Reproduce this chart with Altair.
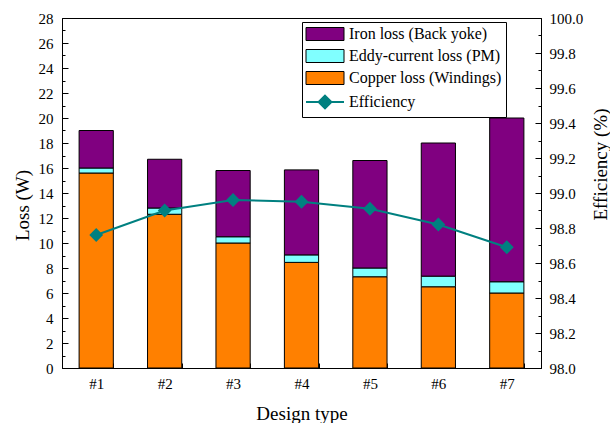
import altair as alt
import pandas as pd

designs = ["#1", "#2", "#3", "#4", "#5", "#6", "#7"]
copper_loss = [15.6, 12.3, 10.0, 8.45, 7.3, 6.5, 6.0]
eddy_loss = [0.4, 0.5, 0.5, 0.6, 0.7, 0.85, 0.9]
iron_loss = [3.0, 3.9, 5.3, 6.8, 8.6, 10.65, 13.1]
efficiency = [98.76, 98.90, 98.96, 98.95, 98.91, 98.82, 98.69]

series_names = ["Iron loss (Back yoke)", "Eddy-current loss (PM)", "Copper loss (Windings)", "Efficiency"]
series_colors = ["#800080", "#80FFFF", "#FF8000", "#008080"]

rows = []
for i, d in enumerate(designs):
    rows.append({"design": d, "series": series_names[2], "loss": copper_loss[i], "ord": 0})
    rows.append({"design": d, "series": series_names[1], "loss": eddy_loss[i], "ord": 1})
    rows.append({"design": d, "series": series_names[0], "loss": iron_loss[i], "ord": 2})
bars_df = pd.DataFrame(rows)
eff_df = pd.DataFrame({"design": designs, "eff": efficiency, "series": ["Efficiency"] * len(designs)})

FONT = "Liberation Serif"
left_vals = list(range(0, 29))
right_vals = [round(98 + i * 0.1, 1) for i in range(21)]
right_major = ["%.1f" % (98 + i * 0.2) for i in range(11)]
MAJ = "indexof([" + ",".join("'%s'" % s for s in right_major) + "], format(datum.value, '.1f')) >= 0"

x_enc = alt.X(
    "design:N",
    sort=designs,
    scale=alt.Scale(paddingInner=0.5, paddingOuter=0.25),
    axis=alt.Axis(
        title="Design type", labelAngle=0, tickBand="extent",
        tickSize={"expr": "-5"}, labelPadding=13,
        labelFont=FONT, labelFontSize=15,
        titleFontSize=19, titleFont=FONT, titleFontWeight="normal",
        titleBaseline="alphabetic", titleY=51,
    ),
)

IS_EFF = "datum.value === 'Efficiency'"
color_enc = alt.Color(
    "series:N",
    scale=alt.Scale(domain=series_names, range=series_colors),
    legend=alt.Legend(
        title=None, orient="none", legendX=240, legendY=4,
        symbolSize=256, labelOffset=27, rowPadding=4, padding=4,
        labelFont=FONT, labelFontSize=16, labelColor="black",
        strokeColor="black", fillColor="white",
        symbolOpacity=1,
        symbolType={"expr": IS_EFF + " ? 'M-1,0H3.75M1.375,-0.8L2.175,0L1.375,0.8L0.575,0Z' : 'M-1,-0.8125H3.75V0.8125H-1Z'"},
        symbolStrokeColor={"expr": IS_EFF + " ? '#008080' : 'black'"},
        symbolStrokeWidth={"expr": IS_EFF + " ? 2 : 1"},
    ),
)

bars = alt.Chart(bars_df).mark_bar(stroke="black", strokeWidth=1).encode(
    x=x_enc,
    y=alt.Y(
        "loss:Q", stack="zero",
        scale=alt.Scale(domain=[0, 28], nice=False),
        axis=alt.Axis(
            title="Loss (W)", values=left_vals,
            labelExpr="datum.value % 2 === 0 ? datum.label : ''",
            labelOverlap=False, labelFont=FONT, labelFontSize=15,
            tickSize={"expr": "datum.value % 2 === 0 ? -6 : -3"},
            labelPadding=15, titleAngle=270, titleBaseline="middle",
            titleX=-40, titleY=187, titleFontSize=19, titleFont=FONT,
            titleFontWeight="normal",
        ),
    ),
    color=color_enc,
    order=alt.Order("ord:Q"),
)

y_right = alt.Y(
    "eff:Q",
    scale=alt.Scale(domain=[98, 100], nice=False, zero=False),
    axis=alt.Axis(
        title="Efficiency (%)", orient="right", values=right_vals,
        labelExpr=MAJ + " ? format(datum.value, '.1f') : ''",
        labelOverlap=False, labelFont=FONT, labelFontSize=15,
        tickSize={"expr": MAJ + " ? -6 : -3"},
        labelPadding=14, titleAngle=270, titleBaseline="middle",
        titleX=59, titleY=146, titleFontSize=19, titleFont=FONT,
        titleFontWeight="normal",
    ),
)

line = alt.Chart(eff_df).mark_line(strokeWidth=2, color="#008080").encode(
    x=alt.X("design:N", sort=designs),
    y=y_right,
)
points = alt.Chart(eff_df).mark_point(shape="diamond", size=190, filled=True, opacity=1).encode(
    x=alt.X("design:N", sort=designs),
    y=y_right,
    color=alt.Color("series:N"),
)

chart = alt.layer(bars, alt.layer(line, points)).resolve_scale(
    y="independent"
).properties(
    width=479, height=350,
    autosize=alt.AutoSizeParams(type="none"),
    padding={"left": 62, "top": 18, "right": 69, "bottom": 55},
).configure(
    font=FONT
).configure_view(
    stroke="black", strokeWidth=1
).configure_axis(
    labelFont=FONT, labelFontSize=15, labelColor="black",
    titleColor="black", domainColor="black", tickColor="black",
    domainWidth=1, tickWidth=1, grid=False, labelOverlap=False,
).configure_legend(
    labelFont=FONT
)

chart.save("out.html", embed_options={"renderer": "svg", "actions": False})
